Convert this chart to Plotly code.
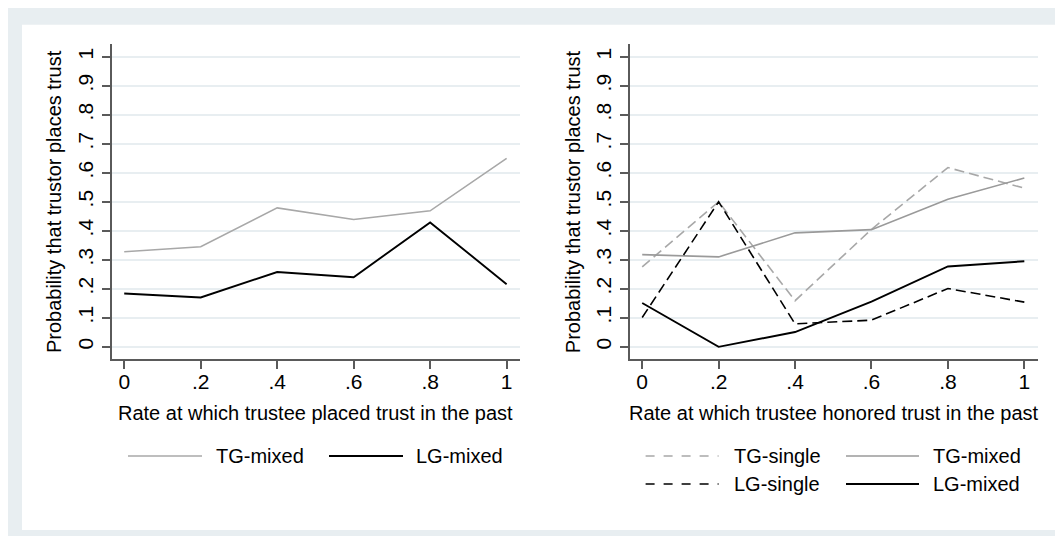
import plotly.graph_objects as go

W, H = 1063, 536
OX, OY = 8, 8  # page body margin offset

# ---- data ----
x_rate = [0, 0.2, 0.4, 0.6, 0.8, 1.0]
x_tick_vals = [0, 0.2, 0.4, 0.6, 0.8, 1.0]
x_tick_text = ["0", ".2", ".4", ".6", ".8", "1"]
y_tick_vals = [0, 0.1, 0.2, 0.3, 0.4, 0.5, 0.6, 0.7, 0.8, 0.9, 1.0]
y_tick_text = ["0", ".1", ".2", ".3", ".4", ".5", ".6", ".7", ".8", ".9", "1"]

left_tg_mixed = [0.328, 0.345, 0.479, 0.439, 0.469, 0.650]
left_lg_mixed = [0.184, 0.170, 0.258, 0.240, 0.429, 0.216]

right_tg_single = [0.276, 0.500, 0.159, 0.405, 0.618, 0.547]
right_tg_mixed = [0.318, 0.310, 0.393, 0.404, 0.509, 0.582]
right_lg_single = [0.101, 0.500, 0.079, 0.092, 0.201, 0.154]
right_lg_mixed = [0.151, 0.000, 0.051, 0.156, 0.277, 0.295]

y_title = "Probability that trustor places trust"
x_title_left = "Rate at which trustee placed trust in the past"
x_title_right = "Rate at which trustee honored trust in the past"

# ---- styles ----
FONT = "Liberation Sans, Arial, sans-serif"
FS = 20
TFS = 21
BG = "#e8eef1"
GRID = "#e8eef1"
AXIS = "#5a5a5a"
LIGHT_GRAY = "#a8a8a8"
MID_GRAY = "#9a9a9a"
BLACK = "#000000"
DASH = "10px,5px"


def px(x):
    return (x - OX) / W


def py(y):
    return 1 - (y - OY) / H


fig = go.Figure()

series = [
    ("x", "y", left_tg_mixed, LIGHT_GRAY, 1.6, "solid"),
    ("x", "y", left_lg_mixed, BLACK, 1.9, "solid"),
    ("x2", "y2", right_tg_single, LIGHT_GRAY, 1.6, DASH),
    ("x2", "y2", right_tg_mixed, MID_GRAY, 1.6, "solid"),
    ("x2", "y2", right_lg_single, BLACK, 1.6, DASH),
    ("x2", "y2", right_lg_mixed, BLACK, 1.9, "solid"),
]
for xa, ya, vals, col, w, dash in series:
    fig.add_trace(go.Scatter(x=x_rate, y=vals, xaxis=xa, yaxis=ya, mode="lines",
                             line=dict(color=col, width=w, dash=dash),
                             showlegend=False, hoverinfo="skip"))

y_dom = [py(359), py(44.3)]
xr = [-0.033, 1.035]
yr = [-0.042, 1.043]

common_x = dict(range=xr, tickvals=x_tick_vals, ticktext=x_tick_text, showgrid=False,
                zeroline=False, showline=True, linecolor=AXIS, linewidth=1.5,
                ticks="outside", ticklen=8, tickwidth=1.5, tickcolor=AXIS,
                ticklabelstandoff=-5,
                tickfont=dict(family=FONT, size=TFS, color="black"))
common_y = dict(range=yr, tickvals=y_tick_vals, ticktext=y_tick_text, showgrid=True,
                gridcolor=GRID, gridwidth=1.5, zeroline=False, showline=True,
                linecolor=AXIS, linewidth=1.5, ticks="outside", ticklen=8, tickwidth=1.5,
                tickcolor=AXIS, tickangle=-90, domain=y_dom,
                tickfont=dict(family=FONT, size=TFS, color="black"))

fig.update_layout(
    width=W, height=H,
    margin=dict(l=0, r=0, t=0, b=0),
    paper_bgcolor=BG, plot_bgcolor="rgba(0,0,0,0)",
    showlegend=False,
    xaxis=dict(common_x, domain=[px(111.6), px(520)], anchor="y"),
    yaxis=dict(common_y, anchor="x"),
    xaxis2=dict(common_x, domain=[px(629.6), px(1037.7)], anchor="y2"),
    yaxis2=dict(common_y, anchor="x2"),
)

shapes = [
    dict(type="rect", xref="paper", yref="paper", x0=px(22), x1=px(1058), y0=py(530), y1=py(24.8),
         fillcolor="white", line=dict(width=0), layer="below"),
]

annotations = []
# axis titles
for xc, txt in [(315.8, x_title_left), (833.6, x_title_right)]:
    annotations.append(dict(x=px(xc), y=py(413.3), xref="paper", yref="paper", text=txt,
                            showarrow=False, xanchor="center", yanchor="middle",
                            font=dict(family=FONT, size=FS, color="black")))
for xc in [53.4, 572.5]:
    annotations.append(dict(x=px(xc), y=py(201.7), xref="paper", yref="paper", text=y_title,
                            showarrow=False, textangle=-90, xanchor="center", yanchor="middle",
                            font=dict(family=FONT, size=FS, color="black")))

# legends (drawn as keys + labels)
legend_items = [
    (128, 202, 213.5, 456, LIGHT_GRAY, 1.6, "solid", "TG-mixed"),
    (329, 403, 414.3, 456, BLACK, 1.9, "solid", "LG-mixed"),
    (645.6, 718.6, 732.2, 456, LIGHT_GRAY, 1.6, "dash", "TG-single"),
    (846, 919, 931, 456, MID_GRAY, 1.6, "solid", "TG-mixed"),
    (645.6, 718.6, 732.2, 484, BLACK, 1.6, "dash", "LG-single"),
    (846, 919, 931, 484, BLACK, 1.9, "solid", "LG-mixed"),
]
for x0, x1, xt, yc, col, w, dash, label in legend_items:
    shapes.append(dict(type="line", xref="paper", yref="paper", x0=px(x0), x1=px(x1),
                       y0=py(yc), y1=py(yc), line=dict(color=col, width=w, dash=dash)))
    annotations.append(dict(x=px(xt), y=py(yc), xref="paper", yref="paper", text=label,
                            showarrow=False, xanchor="left", yanchor="middle",
                            font=dict(family=FONT, size=FS, color="black")))

fig.update_layout(shapes=shapes, annotations=annotations)

fig.write_html("out.html")
